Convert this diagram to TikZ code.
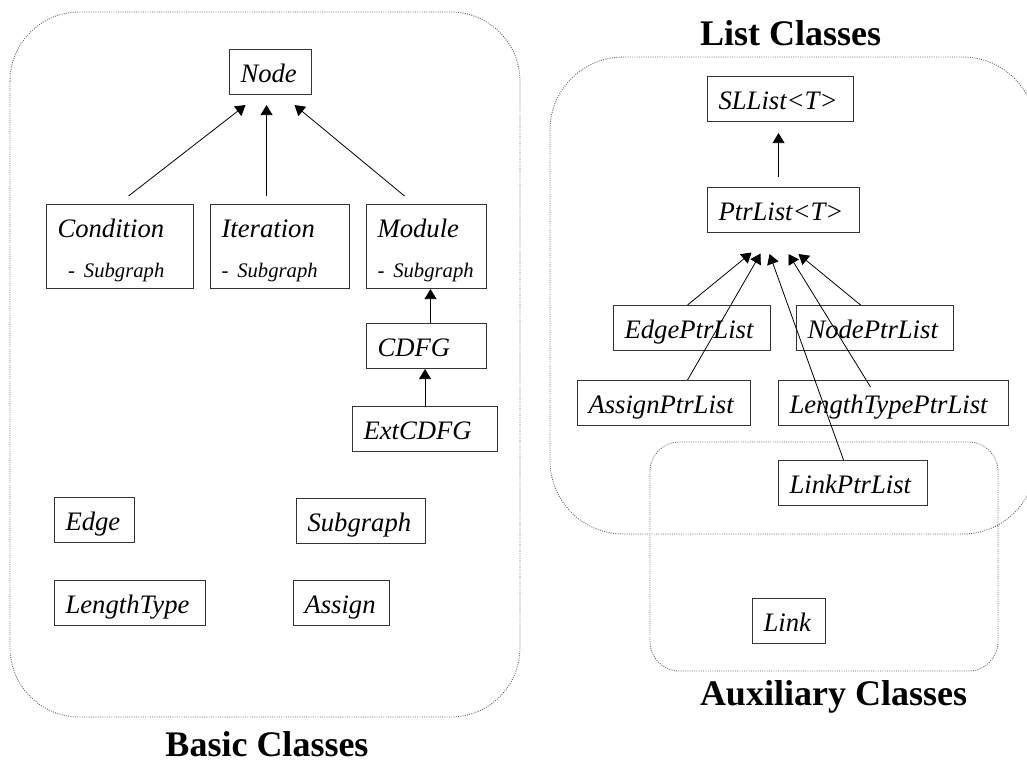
\documentclass[tikz,border=0pt]{standalone}
\usepackage{fontspec}
\setmainfont{Liberation Serif}
\usetikzlibrary{arrows.meta,calc}

\tikzstyle{classnode}=[draw=black!80, line width=0.8pt, anchor=north west, inner xsep=8.25pt, inner ysep=2pt, minimum height=33.75pt, text height=18pt, text depth=3pt, align=left, font=\itshape\fontsize{20}{30}\selectfont]
\tikzstyle{twoline}=[minimum height=63pt, text depth=31.5pt]
\tikzstyle{groupbox}=[draw=black!60, densely dotted, line width=0.7pt]
\tikzstyle{grouplabel}=[anchor=base, inner sep=0pt, font=\bfseries\fontsize{27}{32}\selectfont]
\tikzstyle{inherit}=[-{Triangle[length=7.5pt,width=9pt]}, line width=0.6pt]
\newcommand{\subline}{{\fontsize{15.5}{30}\selectfont - Subgraph}}

\begin{document}
\begin{tikzpicture}[x=0.75pt, y=-0.75pt]
  \useasboundingbox (0,0) rectangle (1027,760);
  \draw[groupbox, rounded corners=52pt] (10,12) rectangle (520,717);
  \draw[groupbox, rounded corners=55pt] (550,57) rectangle (1036,534);
  \draw[groupbox, rounded corners=22pt] (650,442) rectangle (998,671);
  \node[grouplabel] (LBasic) at (267,756) {Basic Classes};
  \node[grouplabel] (LList) at (790.5,45) {List Classes};
  \node[grouplabel] (LAux) at (833.5,705) {Auxiliary Classes};

  \node[classnode, text width=45pt] (Nd) at (229,49) {Node};
  \node[classnode, twoline, text width=93.75pt] (Cond) at (46,204) {Condition\\\hspace*{8pt}\subline};
  \node[classnode, twoline, text width=87.75pt] (Iter) at (210,204) {Iteration\\\subline};
  \node[classnode, twoline, text width=73.5pt] (Mod) at (366,204) {Module\\\subline};
  \node[classnode, text width=73.5pt] (CDFG) at (366,323) {CDFG};
  \node[classnode, text width=92.25pt] (Ext) at (352,406) {ExtCDFG};
  \node[classnode, text width=43.5pt] (Edge) at (54,497) {Edge};
  \node[classnode, text width=80.25pt] (Subg) at (296,498) {Subgraph};
  \node[classnode, text width=96.75pt] (LType) at (54,580) {LengthType};
  \node[classnode, text width=55.5pt] (Asgn) at (293,580) {Assign};

  \node[classnode, text width=93pt] (SLL) at (707,76) {SLList<T>};
  \node[classnode, text width=97.5pt] (Ptr) at (707,187) {PtrList<T>};
  \node[classnode, text width=101.25pt] (EPtr) at (613,305) {EdgePtrList};
  \node[classnode, text width=101.25pt] (NPtr) at (796,305) {NodePtrList};
  \node[classnode, text width=113.25pt] (APtr) at (577,380) {AssignPtrList};
  \node[classnode, text width=156pt] (LPtr) at (778,380) {LengthTypePtrList};
  \node[classnode, text width=95.25pt] (KPtr) at (778,460) {LinkPtrList};
  \node[classnode, text width=38.25pt] (Lnk) at (752,598) {Link};

  \draw[inherit] ($(Cond.north)+(8.5,-8)$) -- ($(Nd.south)+(-25,10)$);
  \draw[inherit] ($(Iter.north)+(-13.5,-8)$) -- ($(Nd.south)+(-4,10)$);
  \draw[inherit] ($(Mod.north)+(-22,-8)$) -- ($(Nd.south)+(24,10)$);
  \draw[inherit] ($(CDFG.north)+(4,0)$) -- ($(Mod.south)+(4,0)$);
  \draw[inherit] (Ext.north) -- (Ext.north |- CDFG.south);
  \draw[inherit] ($(Ptr.north)+(-5,-10)$) -- ($(SLL.south)+(-2,11)$);
  \draw[inherit] ($(EPtr.north)+(-4.5,0)$) -- ($(Ptr.south)+(-32,19.5)$);
  \draw[inherit] ($(APtr.north)+(23.5,0)$) -- ($(Ptr.south)+(-23,20.5)$);
  \draw[inherit] ($(KPtr.north)+(-9.5,0)$) -- ($(Ptr.south)+(-14,21)$);
  \draw[inherit] ($(LPtr.north)+(-23,7)$) -- ($(Ptr.south)+(5,21)$);
  \draw[inherit] ($(NPtr.north)+(-14.5,0)$) -- ($(Ptr.south)+(15,21)$);
\end{tikzpicture}
\end{document}
